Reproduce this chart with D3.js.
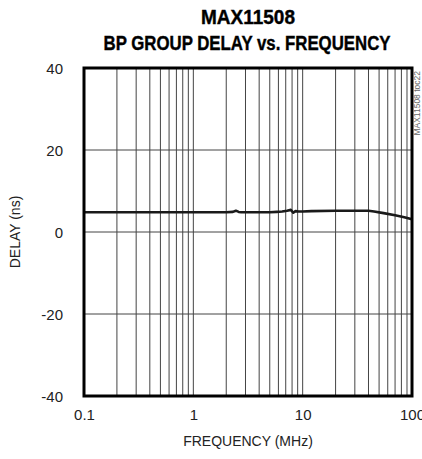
<!DOCTYPE html>
<html><head><meta charset="utf-8">
<script src="https://cdn.jsdelivr.net/npm/d3@7"></script>
<style>
html,body{margin:0;padding:0;background:#fff;overflow:hidden;}
svg{display:block;}
</style></head>
<body>
<svg id="c" width="422" height="459"></svg>
<script>
const titleLines = ["MAX11508", "BP GROUP DELAY vs. FREQUENCY"];
const xLabel = "FREQUENCY (MHz)";
const yLabel = "DELAY (ns)";
const watermark = "MAX11508 toc22";
const xTicks = [0.1, 1, 10, 100];
const xTickLabels = ["0.1", "1", "10", "100"];
const yTicks = [-40, -20, 0, 20, 40];
const yTickLabels = ["-40", "-20", "0", "20", "40"];
const freq  = [0.1, 0.3, 1, 2, 2.3, 2.45, 2.6, 2.75, 3, 4, 5, 5.8, 6.5, 7.2, 7.8, 8.2, 8.6, 9.2, 10, 12, 20, 30, 40, 45, 55, 70, 85, 100];
const delay = [4.8, 4.8, 4.8, 4.8, 4.9, 5.2, 4.9, 4.8, 4.8, 4.8, 4.8, 4.9, 5.0, 5.2, 5.4, 4.7, 5.1, 5.0, 5.0, 5.1, 5.2, 5.2, 5.2, 5.0, 4.6, 4.1, 3.6, 3.1];

const svg = d3.select("#c");
const L = 84, R = 412, T = 68, B = 396;
const x = d3.scaleLog().domain([0.1, 100]).range([L, R]);
const y = d3.scaleLinear().domain([-40, 40]).range([B, T]);

// minor vertical grid
const gridX = [];
for (let d = 0.1; d < 100; d *= 10) for (let k = 2; k <= 9; k++) gridX.push(+(d * k).toPrecision(3));
[1, 10].forEach(v => gridX.push(v));
svg.append("g").selectAll("line").data(gridX).join("line")
  .attr("x1", d => x(d)).attr("x2", d => x(d)).attr("y1", T).attr("y2", B)
  .attr("stroke", "#444").attr("stroke-width", 1);
svg.append("g").selectAll("line").data(yTicks.slice(1, -1)).join("line")
  .attr("x1", L).attr("x2", R).attr("y1", d => y(d)).attr("y2", d => y(d))
  .attr("stroke", "#444").attr("stroke-width", 1);

// curve
svg.append("path").datum(freq.map((f, i) => [f, delay[i]]))
  .attr("fill", "none").attr("stroke", "#1a1a1a").attr("stroke-width", 2.6)
  .attr("stroke-linejoin", "round")
  .attr("d", d3.line().x(d => x(d[0])).y(d => y(d[1])));

// frame
svg.append("rect").attr("x", L).attr("y", T).attr("width", R - L).attr("height", B - T)
  .attr("fill", "none").attr("stroke", "#000").attr("stroke-width", 3);

const font = "'Liberation Sans', Arial, sans-serif";

// y ticks
const yAxis = d3.axisLeft(y).tickValues(yTicks).tickFormat((d, i) => yTickLabels[i]).tickSize(0).tickPadding(0);
const gy = svg.append("g").attr("transform", `translate(${L - 21},0)`).call(yAxis);
gy.select(".domain").remove();
gy.selectAll("text").attr("font-family", font).attr("font-size", 15).attr("fill", "#222").attr("dy", "0.35em");

// x ticks
const xAxis = d3.axisBottom(x).tickValues(xTicks).tickFormat((d, i) => xTickLabels[i]).tickSize(0).tickPadding(0);
const gx = svg.append("g").attr("transform", `translate(0,${B + 13})`).call(xAxis);
gx.select(".domain").remove();
gx.selectAll("text").attr("font-family", font).attr("font-size", 15).attr("fill", "#222").attr("dy", "0.71em");

// labels
svg.append("text").attr("x", (L + R) / 2).attr("y", 446).attr("text-anchor", "middle")
  .attr("font-family", font).attr("font-size", 14).attr("fill", "#222").text(xLabel);
svg.append("text").attr("transform", `translate(20,${(T + B) / 2}) rotate(-90)`).attr("text-anchor", "middle")
  .attr("font-family", font).attr("font-size", 14).attr("fill", "#222").text(yLabel);

// title (condensed via horizontal scale)
const titleSpec = [{cx: 248, by: 24, w: 94}, {cx: 247, by: 50, w: 287}];
titleLines.forEach((t, i) => {
  const s = titleSpec[i];
  const g = svg.append("g");
  const tx = g.append("text").attr("x", 0).attr("y", 0).attr("text-anchor", "middle")
    .attr("font-family", font).attr("font-weight", "bold").attr("font-size", 20)
    .attr("fill", "#000").attr("stroke", "#000").attr("stroke-width", 0.4).text(t);
  const nat = tx.node().getComputedTextLength();
  g.attr("transform", `translate(${s.cx},${s.by}) scale(${s.w / nat},1)`);
});

// watermark
svg.append("text").attr("transform", `translate(420,${T + 3}) rotate(-90)`).attr("text-anchor", "end")
  .attr("font-family", font).attr("font-size", 8.5).attr("fill", "#666").text(watermark);
</script>
</body></html>
